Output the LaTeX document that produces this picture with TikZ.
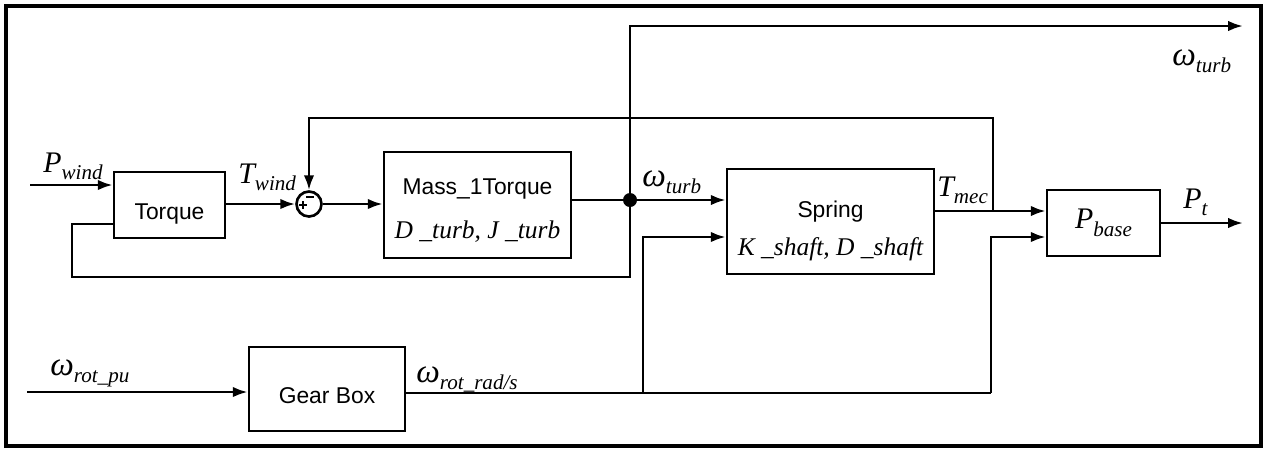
\documentclass[tikz,border=0pt]{standalone}
\usepackage{fontspec}
\setmainfont{Liberation Sans}
\newfontfamily\prm{Liberation Serif}
\usetikzlibrary{arrows.meta}

% signal names: italic letter with a lowered index
\newcommand{\sgn}[2]{{\prm\itshape\fontsize{17}{17}\selectfont #1\raisebox{-4.5pt}{\fontsize{12}{12}\selectfont #2}}}
\newcommand{\omg}[1]{{\prm\itshape\fontsize{19}{19}\selectfont ω\raisebox{-4.5pt}{\fontsize{12}{12}\selectfont #1}}}

\tikzstyle{block} = [rectangle, draw=black, line width=1.5pt, inner sep=0pt,
    text centered, font=\fontsize{13}{15}\selectfont]
\tikzstyle{lowtext} = [text height=17pt, text depth=0pt]
\tikzstyle{sig} = [anchor=base west, inner sep=0pt]
\tikzstyle{wire} = [line width=1.5pt]
\tikzstyle{arrow} = [line width=1.5pt,->,>={Latex[length=8.5pt,width=6pt]}]

\begin{document}
\begin{tikzpicture}[x=0.02cm, y=-0.02cm]
\useasboundingbox (0,0) rectangle (1266,451);
\draw [line width=2.2pt] (6,6) rectangle (1261,446);

% Blocks
\node (torque) [block, lowtext, minimum width=2.22cm, minimum height=1.32cm] at (169.5,205) {Torque};
\node (sum) [circle, draw, line width=1.5pt, minimum size=0.5cm, inner sep=0pt] at (309,204) {};
\node (mass) [block, align=center, minimum width=3.74cm, minimum height=2.12cm] at (477.5,205)
    {\rule{0pt}{15pt}Mass\_1Torque\\[10pt]{\prm\itshape\fontsize{14.5}{15}\selectfont D \_turb, J \_turb}};
\node (spring) [block, align=center, minimum width=4.14cm, minimum height=2.1cm] at (830.5,221.5)
    {\rule{0pt}{20pt}Spring\\[7pt]{\prm\itshape\fontsize{14.5}{15}\selectfont K \_shaft, D \_shaft}};
\node (pbase) [block, minimum width=2.26cm, minimum height=1.32cm] at (1103.5,223) {\sgn{P}{base}};
\node (gear) [block, lowtext, minimum width=3.12cm, minimum height=1.68cm] at (327,389) {Gear Box};
\node (junc) [circle, fill=black, inner sep=0pt, minimum size=0.28cm] at (630,200) {};

% signs of the summing point
\draw [line width=1.2pt] ([shift={(-10,1)}]sum.center) -- ++(8,0)
    ([shift={(-6,-3)}]sum.center) -- ++(0,8)
    ([shift={(-3,-7)}]sum.center) -- ++(8,0);

% Free ends and bends
\coordinate (pin) at (30,185);
\coordinate (win) at (27,392);
\coordinate (wout) at (1243,26);
\coordinate (pout) at (1243,223);
\coordinate (low) at (630,277);
\coordinate (tfb) at (72,224);
\coordinate (tm) at (993,211);
\coordinate (fbtop) at (993,118);
\coordinate (split1) at (643,393);
\coordinate (split2) at (991,393);

% Arrows
\draw [arrow] (pin) -- (torque.west |- pin);
\draw [arrow] (torque.east |- sum) -- (sum.west);
\draw [arrow] (sum.east) -- (sum.east -| mass.west);
\draw [wire] (mass.east |- junc) -- (junc);
\draw [arrow] (junc) -- (junc -| spring.west);
\draw [arrow] (junc) |- (wout);
\draw [wire] (junc) -- (low) -| (tfb) -- (torque.west |- tfb);
\draw [arrow] (spring.east |- tm) -- (pbase.west |- tm);
\draw [arrow] (tm) -- (fbtop) -| (sum.north);
\draw [arrow] (pbase.east) -- (pout);
\draw [arrow] (win) -- (win -| gear.west);
\draw [wire] (gear.east |- split2) -- (split2);
\draw [arrow] (split1) |- ([yshift=-0.31cm]spring.west);
\draw [arrow] (split2) |- ([yshift=-0.28cm]pbase.west);

% Signal names
\node (lpw) [sig] at (43,172) {\sgn{P}{wind}};
\node (ltw) [sig] at (238,183) {\sgn{T}{wind}};
\node (lwt) [sig] at (642,186) {\omg{turb}};
\node (lwo) [sig] at (1172,65) {\omg{turb}};
\node (ltm) [sig] at (937,196) {\sgn{T}{mec}};
\node (lpt) [sig] at (1183,208) {\sgn{P}{t}};
\node (lwr) [sig] at (50,375) {\omg{rot\_pu}};
\node (lwg) [sig] at (416,382) {\omg{rot\_rad/s}};

\end{tikzpicture}
\end{document}
